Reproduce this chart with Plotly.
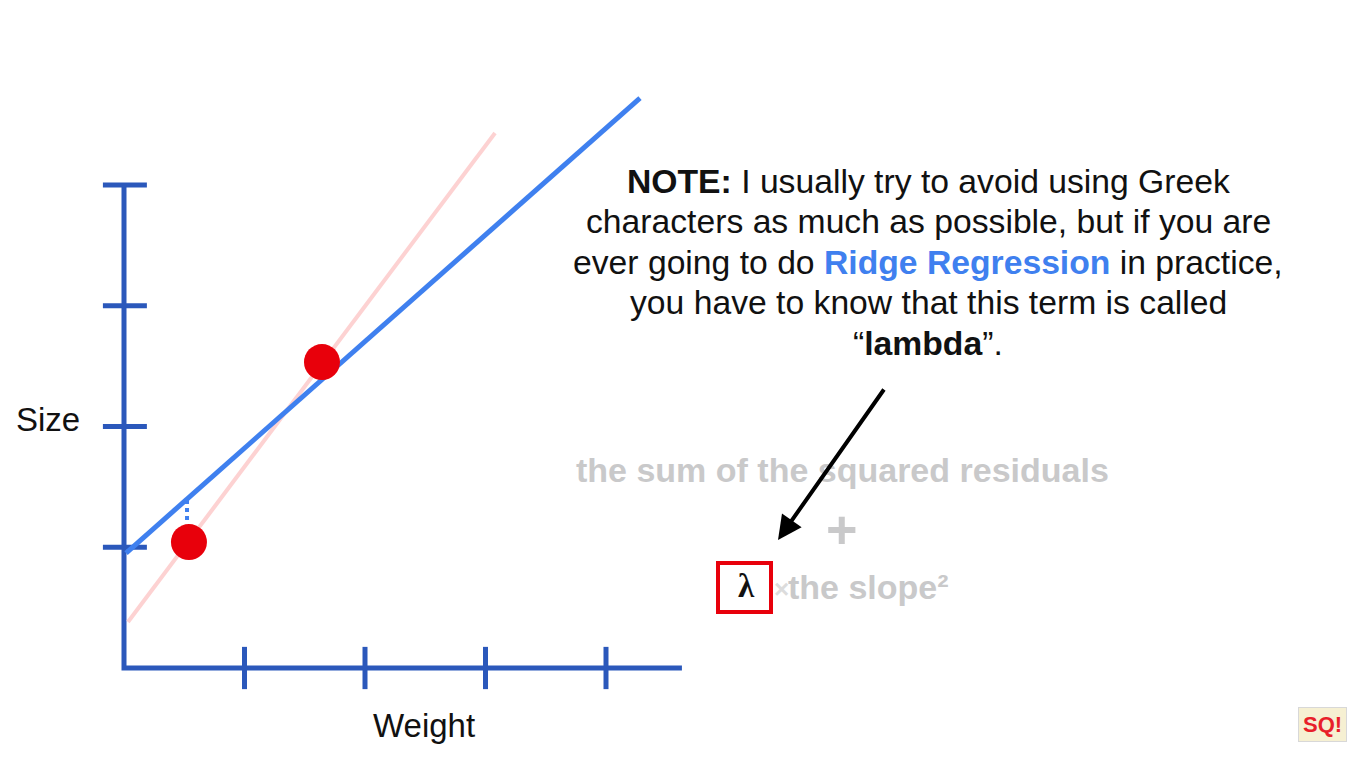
import plotly.graph_objects as go

# ---- data ----
x_ticks = [1, 2, 3, 4]
y_ticks = [1, 2, 3, 4]
x_axis_end = 4.63
points_x = [0.539, 1.643]
points_y = [1.043, 2.534]
ridge_line_x = [0.017, 4.282]
ridge_line_y = [0.952, 4.72]
ols_line_x = [0.033, 3.079]
ols_line_y = [0.381, 4.431]
residual_x = [0.523, 0.523]
residual_y = [1.391, 1.209]
note_lines = [
    "<b>NOTE:</b> I usually try to avoid using Greek",
    "characters as much as possible, but if you are",
    "ever going to do <b><span style='color:#3f80ef'>Ridge Regression</span></b> in practice,",
    "you have to know that this term is called",
    "“<b>lambda</b>”.",
]

AXIS_BLUE = "#2b58bb"
LINE_BLUE = "#3f80ef"
PINK = "#fdd2d2"
RED = "#e8000b"
GRAY = "#c9c9ca"
FONT = "Liberation Sans, Arial, sans-serif"

W, H = 1366, 768
x0px, y0px, sx, sy = 124, 668, 120.5, 120.75
xr = [-x0px / sx, (W - x0px) / sx]
yr = [-(H - y0px) / sy, y0px / sy]

fig = go.Figure()

# axes
fig.add_trace(go.Scatter(x=[0, 0, x_axis_end], y=[max(y_ticks), 0, 0], mode="lines",
                         line=dict(color=AXIS_BLUE, width=5), hoverinfo="skip"))
tx, ty = [], []
for t in x_ticks:
    tx += [t, t, None]
    ty += [-0.175, 0.175, None]
for t in y_ticks:
    tx += [-0.175, 0.19, None]
    ty += [t, t, None]
fig.add_trace(go.Scatter(x=tx, y=ty, mode="lines", line=dict(color=AXIS_BLUE, width=5),
                         hoverinfo="skip"))

# lines
fig.add_trace(go.Scatter(x=ols_line_x, y=ols_line_y, mode="lines",
                         line=dict(color=PINK, width=4), hoverinfo="skip"))
fig.add_trace(go.Scatter(x=ridge_line_x, y=ridge_line_y, mode="lines",
                         line=dict(color=LINE_BLUE, width=5), hoverinfo="skip"))
fig.add_trace(go.Scatter(x=residual_x, y=residual_y, mode="lines",
                         line=dict(color=LINE_BLUE, width=4, dash="dot"), hoverinfo="skip"))
fig.add_trace(go.Scatter(x=points_x, y=points_y, mode="markers",
                         marker=dict(color=RED, size=36, line=dict(width=0)), hoverinfo="skip"))

def px(x):
    return x / W

def py(y):
    return 1 - y / H

anns = [
    dict(x=px(48), y=py(419), text="Size", font=dict(size=33, color="#111")),
    dict(x=px(424), y=py(725), text="Weight", font=dict(size=33, color="#111")),
    dict(x=px(842), y=py(470), text="<b>the sum of the squared residuals</b>",
         font=dict(size=34, color=GRAY)),
    dict(x=px(842), y=py(529), text="<b>+</b>", font=dict(size=54, color=GRAY)),
    dict(x=px(786), y=py(587), xanchor="left", text="<b>the slope²</b>",
         font=dict(size=34, color=GRAY)),
    dict(x=px(772), y=py(589), xanchor="left", text="<b>×</b>",
         font=dict(size=26, color="#dcdcdc")),
    dict(x=px(1322), y=py(724), text="<b>SQ!</b>",
         font=dict(size=22, color="#e8202a"), bgcolor="#f6f0d2",
         bordercolor="#d8d8d8", borderwidth=1, borderpad=4),
]
for i, line in enumerate(note_lines):
    anns.append(dict(x=px(928), y=py(181 + 40.5 * i), text=line,
                     font=dict(size=33.7, color="#111")))
for a in anns:
    a.setdefault("xanchor", "center")
    a.update(xref="paper", yref="paper", yanchor="middle", showarrow=False,
             font=dict(family=FONT, **a["font"]))
    fig.add_annotation(**a)

# red box with lambda
fig.add_shape(type="rect", xref="paper", yref="paper", x0=px(718), x1=px(771),
              y0=py(612), y1=py(563), line=dict(color=RED, width=4), fillcolor="white",
              layer="above")
fig.add_annotation(x=px(746), y=py(586), xref="paper", yref="paper", showarrow=False,
                   xanchor="center", yanchor="middle",
                   text="<b>λ</b>", font=dict(family="Liberation Serif, serif", size=33, color="#111"))

# arrow
fig.add_annotation(x=px(778), y=py(540), ax=885 - 778, ay=388 - 540, xref="paper", yref="paper",
                   axref="pixel", ayref="pixel", text="", showarrow=True, arrowhead=2,
                   arrowsize=1.2, arrowwidth=4, arrowcolor="#000")

fig.update_layout(
    width=W, height=H, margin=dict(l=0, r=0, t=0, b=0),
    paper_bgcolor="white", plot_bgcolor="white", showlegend=False,
    xaxis=dict(range=xr, visible=False, fixedrange=True),
    yaxis=dict(range=yr, visible=False, fixedrange=True),
)
fig.write_html("out.html", post_script="document.body.style.margin='0';",
               config={"displayModeBar": False})
